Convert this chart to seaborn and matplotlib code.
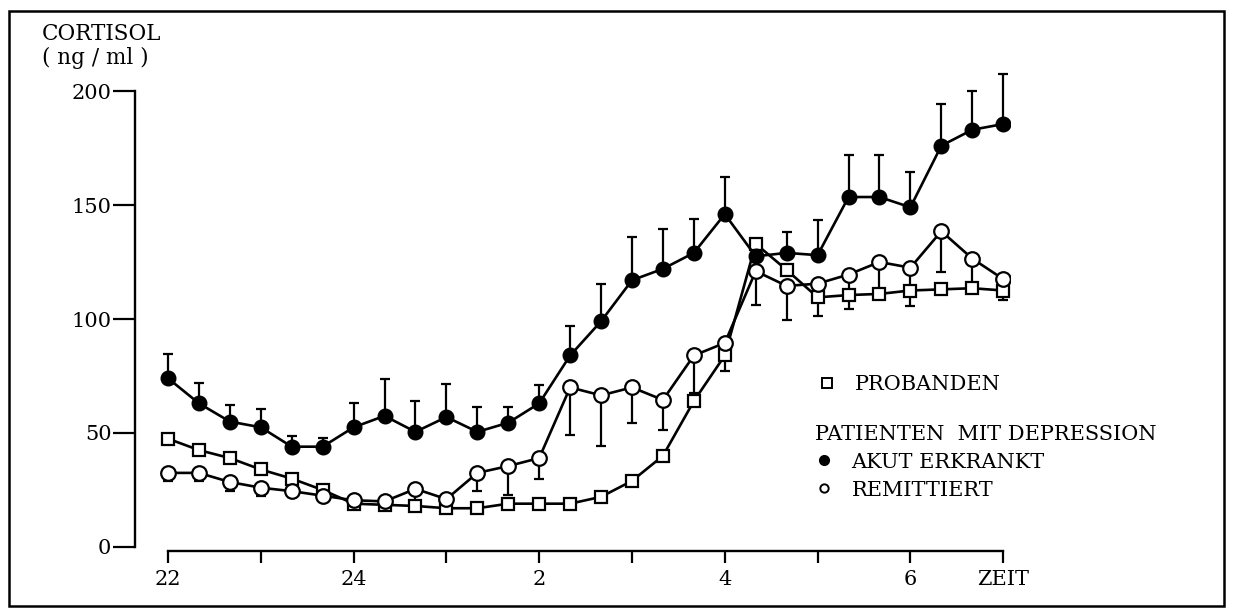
import numpy as np
import pandas as pd
import matplotlib
matplotlib.use("Agg")
import matplotlib.pyplot as plt
from matplotlib.lines import Line2D
from matplotlib.patches import Rectangle
import seaborn as sns

# Sampling times (every 20 min, 22:00 to 07:00)
times = ["22:00", "22:20", "22:40", "23:00", "23:20", "23:40", "24:00",
         "00:20", "00:40", "01:00", "01:20", "01:40", "02:00", "02:20",
         "02:40", "03:00", "03:20", "03:40", "04:00", "04:20", "04:40",
         "05:00", "05:20", "05:40", "06:00", "06:20", "06:40", "07:00"]

# Cortisol (ng/ml), acutely ill depressed patients: mean and upper SEM
akut = [74, 63, 55, 52.5, 44, 44, 52.5, 57.5, 50.5, 57, 50.5, 54.5, 63, 84,
        99, 117, 122, 129, 146, 127.5, 129, 128, 153.5, 153.5, 149, 176, 183, 185.5]
akut_err = [10.5, 9, 7.5, 8, 4.5, 4, 10.5, 16, 13.5, 14.5, 11, 7, 8, 13,
            16.5, 19, 17.5, 15, 16.5, 0, 9, 15.5, 18.5, 18.5, 15.5, 18.5, 17, 22]

# Remitted patients: mean and lower SEM
remitt = [32.5, 32.5, 28.5, 26, 24.5, 22.5, 20.5, 20, 25.5, 21, 32.5, 35.5, 39, 70,
          66.5, 70, 64.5, 84, 89.5, 121, 114.5, 115.5, 119.5, 125, 122.5, 138.5, 126.5, 117.5]
remitt_err = [3.5, 3.5, 4, 3.5, 2.5, 2, 1.5, 1.5, 6, 2, 8, 12.5, 9, 21,
              22, 15.5, 13, 16.5, 0, 15, 15, 0, 15, 13, 17, 18, 14, 0]

# Healthy controls (Probanden): mean and lower SEM
proband = [47.5, 42.5, 39, 34, 30, 25, 19, 18.5, 18, 17, 17, 19, 19, 19,
           22, 29, 40, 64, 84, 133, 121.5, 109.5, 110.5, 111, 112.5, 113, 113.5, 112.5]
proband_err = [0, 0, 0, 0, 0, 0, 0, 0, 0, 0, 0, 0, 0, 0,
               0, 0, 0, 0, 7, 0, 0, 8, 0, 0, 0, 0, 0, 4]

y_ticks = [0, 50, 100, 150, 200]
x_ticks = [22, 23, 24, 25, 26, 27, 28, 29, 30, 31]
x_ticklabels = ["22", "", "24", "", "2", "", "4", "", "6", "ZEIT"]


def to_hours(t):
    h, m = (int(p) for p in t.split(":"))
    if h < 12:
        h += 24
    return h + m / 60.0


df = pd.DataFrame({
    "zeit": [to_hours(t) for t in times],
    "akut": akut, "akut_err": akut_err,
    "remitt": remitt, "remitt_err": remitt_err,
    "proband": proband, "proband_err": proband_err,
})

sns.set_theme(style="white")
plt.rcParams["font.family"] = ["DejaVu Serif", "Liberation Serif"]
for key in ["text.color", "axes.labelcolor", "xtick.color", "ytick.color"]:
    plt.rcParams[key] = "black"

W, H = 1233, 611
fig = plt.figure(figsize=(W / 100, H / 100), dpi=100)

# axes geometry in pixels
x0_px, px_per_h = 168.0, 92.8
y0_px, px_per_unit = 547.0, 2.28
ax_l, ax_r, ax_t, ax_b = 135.0, 1010.0, 60.0, 551.0
ax = fig.add_axes([ax_l / W, (H - ax_b) / H, (ax_r - ax_l) / W, (ax_b - ax_t) / H])
ax.set_xlim(22 - (x0_px - ax_l) / px_per_h, 22 + (ax_r - x0_px) / px_per_h)
ax.set_ylim(-(ax_b - y0_px) / px_per_unit, (y0_px - ax_t) / px_per_unit)

lw = 1.9
common = dict(color="black", linewidth=lw, ax=ax, legend=False)


# error bars first so markers sit on top
def draw_err(col, errcol, upward):
    sub = df[df[errcol] > 0]
    lo = np.zeros(len(sub)) if upward else sub[errcol].to_numpy()
    hi = sub[errcol].to_numpy() if upward else np.zeros(len(sub))
    ax.errorbar(sub["zeit"], sub[col], yerr=[lo, hi], fmt="none",
                ecolor="black", elinewidth=1.6, capsize=3.4, capthick=1.6, zorder=1)


draw_err("proband", "proband_err", False)
draw_err("remitt", "remitt_err", False)
draw_err("akut", "akut_err", True)

sns.lineplot(data=df, x="zeit", y="proband", marker="s", markersize=9,
             markerfacecolor="white", markeredgecolor="black", markeredgewidth=1.6,
             zorder=3, **common)
sns.lineplot(data=df, x="zeit", y="remitt", marker="o", markersize=10.5,
             markerfacecolor="white", markeredgecolor="black", markeredgewidth=1.6,
             zorder=4, **common)
sns.lineplot(data=df, x="zeit", y="akut", marker="o", markersize=10.5,
             markerfacecolor="black", markeredgecolor="black", markeredgewidth=1,
             zorder=5, **common)

# axes styling
for s in ["top", "right"]:
    ax.spines[s].set_visible(False)
for s in ["left", "bottom"]:
    ax.spines[s].set_color("black")
    ax.spines[s].set_linewidth(1.7)
ax.spines["left"].set_bounds(0, 200)
ax.spines["bottom"].set_bounds(22, 31)

ax.set_yticks(y_ticks)
ax.set_yticklabels([str(v) for v in y_ticks])
ax.set_xticks(x_ticks)
ax.set_xticklabels(x_ticklabels)
ax.tick_params(axis="y", left=True, direction="out", length=16, width=1.6, pad=1,
               labelsize=15, colors="black")
ax.tick_params(axis="x", bottom=True, direction="out", length=8.5, width=1.6, pad=5,
               labelsize=15, colors="black")
ax.set_xlabel("")
ax.set_ylabel("")
ax.grid(False)

# axis title
fig.text(42 / W, 1 - 40 / H, "CORTISOL", fontsize=15.5, va="baseline", ha="left")
fig.text(42 / W, 1 - 64 / H, "( ng / ml )", fontsize=15.5, va="baseline", ha="left")

# legends
h_sq = Line2D([], [], linestyle="none", marker="s", markersize=6.5,
              markerfacecolor="white", markeredgecolor="black", markeredgewidth=1.4)
h_full = Line2D([], [], linestyle="none", marker="o", markersize=7,
                markerfacecolor="black", markeredgecolor="black")
h_open = Line2D([], [], linestyle="none", marker="o", markersize=6,
                markerfacecolor="white", markeredgecolor="black", markeredgewidth=1.4)

leg1 = fig.legend([h_sq], ["PROBANDEN"], loc="upper left",
                  bbox_to_anchor=(818 / W, 1 - 375 / H), bbox_transform=fig.transFigure,
                  frameon=False, fontsize=15, handlelength=0.9, handletextpad=0.85,
                  borderpad=0, borderaxespad=0)
leg2 = fig.legend([h_full, h_open], ["AKUT ERKRANKT", "REMITTIERT"], loc="upper left",
                  title="PATIENTEN  MIT DEPRESSION", title_fontsize=15,
                  bbox_to_anchor=(815 / W, 1 - 425 / H), bbox_transform=fig.transFigure,
                  frameon=False, fontsize=15, handlelength=0.9, handletextpad=0.85,
                  labelspacing=0.42, borderpad=0, borderaxespad=0, alignment="left")

# outer frame
fig.patches.append(Rectangle((9 / W, 1 - 606 / H), (1224 - 9) / W, (606 - 11) / H,
                             transform=fig.transFigure, fill=False,
                             edgecolor="black", linewidth=1.8))

fig.savefig("out.png", dpi=100, facecolor="white")
